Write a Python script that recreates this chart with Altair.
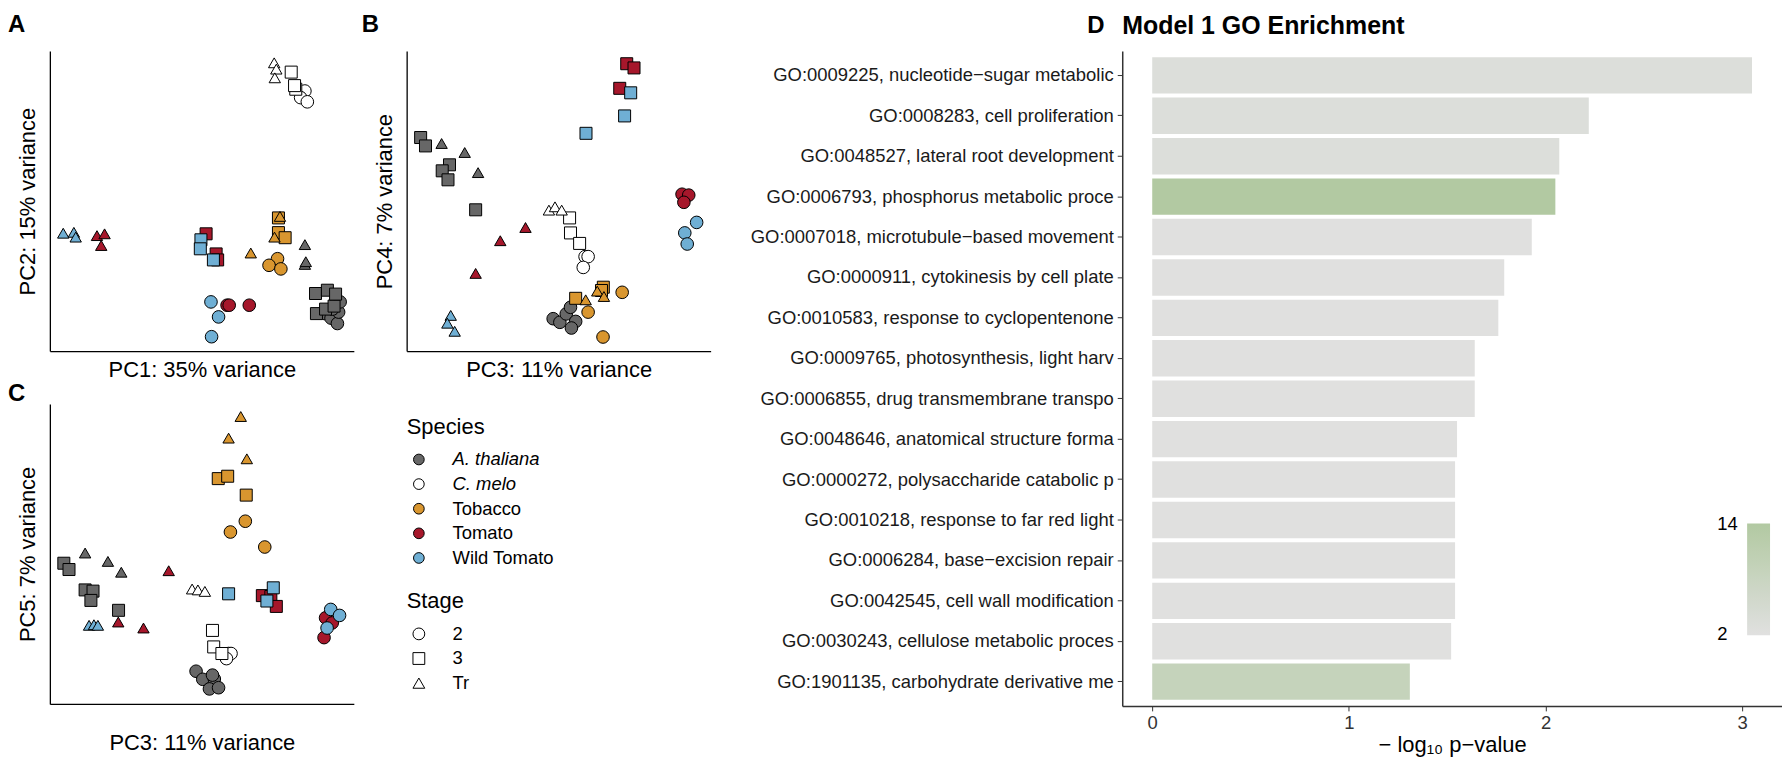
import altair as alt
import pandas as pd

FONT = "Liberation Sans"

# ---------------- shared categories ----------------
SPECIES = ["A. thaliana", "C. melo", "Tobacco", "Tomato", "Wild Tomato"]
SPECIES_COLORS = ["#676767", "#FFFFFF", "#D9962F", "#A6172B", "#6FAFD4"]
STAGES = ["2", "3", "Tr"]
STAGE_SHAPES = ["circle", "square", "triangle-up"]
STAGE_SIZES = [160, 130, 560]

# 51 samples, same order in every PCA panel
sample_species = (["A. thaliana"] * 15 + ["C. melo"] * 9 + ["Tobacco"] * 9
                  + ["Tomato"] * 9 + ["Wild Tomato"] * 9)
sample_stage = (["2"] * 6 + ["3"] * 6 + ["Tr"] * 3
                + ["2", "2", "2", "3", "3", "3", "Tr", "Tr", "Tr"] * 4)

# ---------------- panel A: PC1 vs PC2 (relative position, 0-100) ----------------
a_pc1 = [90.5, 92.5, 94.6, 95.0, 95.5, 93.0, 87.4, 91.3, 87.7, 90.7, 93.5, 94.0, 83.9, 83.9, 84.2,
         83.9, 82.5, 84.7, 79.4, 80.9, 80.5, 73.8, 74.5, 74.0,
         74.9, 72.1, 76.0, 75.2, 75.2, 77.4, 75.7, 73.9, 66.1,
         58.3, 59.0, 65.6, 51.4, 54.7, 55.2, 15.5, 18.0, 16.9,
         53.0, 55.5, 53.2, 49.7, 49.5, 53.8, 4.4, 7.9, 8.5]
a_pc2 = [12.5, 11.0, 9.2, 13.0, 16.4, 14.0, 19.2, 20.3, 12.5, 14.0, 15.0, 19.0, 35.5, 28.9, 29.8,
         86.7, 84.5, 83.1, 93.0, 87.3, 88.5, 96.1, 94.0, 91.1,
         30.8, 28.6, 27.4, 44.4, 39.5, 37.8, 44.9, 38.0, 32.7,
         15.3, 15.3, 15.3, 39.1, 32.4, 30.4, 38.5, 39.1, 35.2,
         16.4, 11.4, 4.8, 37.1, 34.1, 30.4, 39.3, 39.6, 38.0]

# ---------------- panel B: PC3 vs PC4 ----------------
b_pc3 = [48.2, 50.4, 52.5, 53.9, 55.6, 54.2, 4.6, 6.2, 14.1, 11.7, 13.6, 22.7, 11.5, 19.1, 23.5,
         58.7, 59.7, 58.1, 53.6, 53.9, 56.9, 46.8, 48.8, 51.0,
         70.9, 59.7, 64.6, 55.6, 64.7, 64.1, 58.9, 62.7, 64.9,
         90.6, 92.8, 91.2, 72.4, 74.8, 70.1, 39.1, 30.8, 22.7,
         95.4, 91.5, 92.3, 73.7, 71.7, 59.0, 14.5, 13.4, 15.8]
b_pc4 = [10.8, 9.6, 12.4, 14.6, 9.9, 7.7, 71.2, 68.4, 62.1, 60.1, 57.1, 47.1, 69.2, 66.2, 59.5,
         31.5, 31.5, 27.9, 44.4, 39.4, 35.9, 47.0, 48.1, 47.0,
         19.6, 13.0, 4.7, 17.6, 21.3, 20.2, 17.1, 20.0, 18.2,
         52.3, 52.0, 49.6, 95.8, 94.4, 87.6, 41.2, 36.8, 25.9,
         42.9, 39.4, 35.7, 86.1, 78.4, 72.6, 11.9, 9.3, 6.6]

# ---------------- panel C: PC3 vs PC5 ----------------
c_pc3 = [48.1, 50.3, 54.1, 52.5, 55.5, 53.5, 4.6, 6.3, 11.6, 14.2, 13.5, 22.6, 11.6, 19.1, 23.5,
         58.8, 59.6, 58.1, 53.5, 53.9, 56.6, 46.8, 48.7, 51.0,
         64.3, 59.4, 70.7, 55.4, 58.5, 64.6, 62.8, 58.8, 64.8,
         90.7, 92.9, 90.2, 69.9, 72.7, 74.5, 39.1, 22.5, 30.8,
         92.4, 95.3, 91.2, 58.8, 73.5, 71.4, 12.9, 14.5, 15.8]
c_pc5 = [10.9, 8.2, 8.3, 5.0, 5.4, 9.6, 46.9, 44.8, 38.0, 37.6, 34.5, 31.2, 50.3, 47.5, 43.9,
         16.8, 16.8, 15.1, 24.5, 19.0, 16.8, 38.3, 38.0, 37.5,
         60.9, 57.3, 52.3, 75.1, 75.9, 69.6, 95.8, 88.6, 81.7,
         28.7, 27.0, 22.1, 36.1, 35.8, 32.5, 44.4, 27.3, 25.3,
         31.5, 29.5, 25.3, 36.7, 38.7, 34.3, 26.2, 26.4, 26.2]

# ---------------- panel D: GO enrichment ----------------
go_terms = [
    "GO:0009225, nucleotide\u2212sugar metabolic",
    "GO:0008283, cell proliferation",
    "GO:0048527, lateral root development",
    "GO:0006793, phosphorus metabolic proce",
    "GO:0007018, microtubule\u2212based movement",
    "GO:0000911, cytokinesis by cell plate ",
    "GO:0010583, response to cyclopentenone",
    "GO:0009765, photosynthesis, light harv",
    "GO:0006855, drug transmembrane transpo",
    "GO:0048646, anatomical structure forma",
    "GO:0000272, polysaccharide catabolic p",
    "GO:0010218, response to far red light",
    "GO:0006284, base\u2212excision repair",
    "GO:0042545, cell wall modification",
    "GO:0030243, cellulose metabolic proces",
    "GO:1901135, carbohydrate derivative me",
]
go_logp = [3.05, 2.22, 2.07, 2.05, 1.93, 1.79, 1.76, 1.64, 1.64, 1.55, 1.54, 1.54, 1.54, 1.54, 1.52, 1.31]
go_count = [3, 3, 3, 14, 2, 2, 2, 2, 2, 2, 2, 2, 2, 2, 2, 9]
count_ticks = [2, 14]

TITLE_SIZE = 22
LABEL_SIZE = 18.5
TAG_SIZE = 24


def scatter_panel(xvals, yvals, xtitle, ytitle, tag, tag_dx, tag_dy, xtitle_pad, with_legend):
    df = pd.DataFrame({"species": sample_species, "stage": sample_stage, "x": xvals, "y": yvals})
    if with_legend:
        common = dict(orient="none", padding=0, titleFontSize=TITLE_SIZE, titleFontWeight="normal",
                      titleColor="black", titlePadding=11.5, labelFontSize=LABEL_SIZE,
                      labelColor="black", rowPadding=5.7, symbolStrokeColor="black",
                      symbolStrokeWidth=1, symbolOffset=3, labelOffset=24.5)
        color_legend = alt.Legend(
            title="Species", legendX=358, legendY=13, symbolType="circle", symbolSize=115,
            labelFontStyle=alt.ExprRef(expr="indexof(['A. thaliana','C. melo'], datum.label) >= 0 ? 'italic' : 'normal'"),
            **common)
        shape_legend = alt.Legend(title="Stage", legendX=358, legendY=188, symbolSize=140,
                                  symbolFillColor="white", **common)
    else:
        color_legend = None
        shape_legend = None

    def ax(title, pad):
        return alt.Axis(title=title, ticks=False, labels=False, grid=False,
                        domainColor="black", domainWidth=1.3, titleFontSize=TITLE_SIZE,
                        titleFontWeight="normal", titleColor="black", titlePadding=pad)

    return alt.Chart(df).mark_point(filled=True, stroke="black", strokeWidth=1, opacity=1).encode(
        x=alt.X("x:Q", scale=alt.Scale(domain=[0, 100], nice=False, zero=False), axis=ax(xtitle, xtitle_pad)),
        y=alt.Y("y:Q", scale=alt.Scale(domain=[0, 100], nice=False, zero=False), axis=ax(ytitle, 10)),
        color=alt.Color("species:N", scale=alt.Scale(domain=SPECIES, range=SPECIES_COLORS), legend=color_legend),
        shape=alt.Shape("stage:N", scale=alt.Scale(domain=STAGES, range=STAGE_SHAPES), legend=shape_legend),
        size=alt.Size("stage:N", scale=alt.Scale(domain=STAGES, range=STAGE_SIZES), legend=None),
    ).properties(
        width=305, height=301,
        title=alt.Title(tag, anchor="start", frame="group", fontSize=TAG_SIZE, fontWeight="bold",
                        color="black", dx=tag_dx, dy=tag_dy, offset=0, baseline="alphabetic"),
    )


panel_a = scatter_panel(a_pc1, a_pc2, "PC1: 35% variance", "PC2: 15% variance", "A", -42, 5, 8, False)
panel_b = scatter_panel(b_pc3, b_pc4, "PC3: 11% variance", "PC4: 7% variance", "B", -45, 5, 8, False)
panel_c = scatter_panel(c_pc3, c_pc5, "PC3: 11% variance", "PC5: 7% variance", "C", -42, 21, 29, True)

d_df = pd.DataFrame({"term": go_terms, "logp": go_logp, "count": go_count})
panel_d = alt.Chart(d_df).mark_bar().encode(
    y=alt.Y("term:N", sort=go_terms,
            scale=alt.Scale(paddingInner=0.1, paddingOuter=0.15),
            axis=alt.Axis(title=None, labelFontSize=LABEL_SIZE, labelColor="#1a1a1a", labelLimit=600,
                          tickSize=5, tickColor="#333333", domainColor="#333333", domainWidth=1.5,
                          labelPadding=4, grid=False)),
    x=alt.X("logp:Q", scale=alt.Scale(domain=[-0.1525, 3.2025], nice=False, zero=False),
            axis=alt.Axis(values=[0, 1, 2, 3], title="\u2212 log\u2081\u2080 p\u2212value", grid=False,
                          labelFontSize=LABEL_SIZE, labelColor="#333333", labelFlush=False,
                          tickSize=5, tickColor="#333333", domainColor="#333333", domainWidth=1.5,
                          labelPadding=3, titlePadding=2, titleFontSize=TITLE_SIZE,
                          titleFontWeight="normal", titleColor="black")),
    x2=alt.datum(0),
    color=alt.Color("count:Q",
                    scale=alt.Scale(domain=[1.9, 14.1], range=["#E0E0E0", "#B2C9A1"], interpolate="rgb"),
                    legend=alt.Legend(title=None, orient="none", legendX=627, legendY=474, padding=0,
                                      direction="vertical", gradientLength=112, gradientThickness=23,
                                      gradientStrokeWidth=0, values=count_ticks, labelFontSize=LABEL_SIZE,
                                      labelColor="black", labelOffset=alt.ExprRef(expr="-53"),
                                      labelExpr="length(datum.label) < 2 ? '\u2002' + datum.label : datum.label")),
).properties(
    width=662, height=657,
    title=alt.Title("Model 1 GO Enrichment", anchor="start", frame="group", fontSize=25,
                    fontWeight="bold", color="black", dx=0, dy=8, offset=0, baseline="alphabetic"),
)

top_row = alt.hconcat(panel_a, panel_b, spacing=8)
left = alt.vconcat(top_row, panel_c, spacing=2).resolve_legend(color="independent", shape="independent")
d_wrap = alt.hconcat(
    panel_d,
    title=alt.Title("D", anchor="start", frame="group", fontSize=TAG_SIZE, fontWeight="bold",
                    color="black", dx=-35, offset=0, dy=43, baseline="alphabetic"),
).resolve_legend(color="independent")

chart = (
    alt.hconcat(left, d_wrap, spacing=39)
    .resolve_scale(color="independent")
    .properties(padding={"top": 4, "left": 0, "right": 0, "bottom": 0})
    .configure(font=FONT)
    .configure_view(stroke=None)
)

chart.save("out.html", embed_options={"renderer": "svg", "actions": False})
